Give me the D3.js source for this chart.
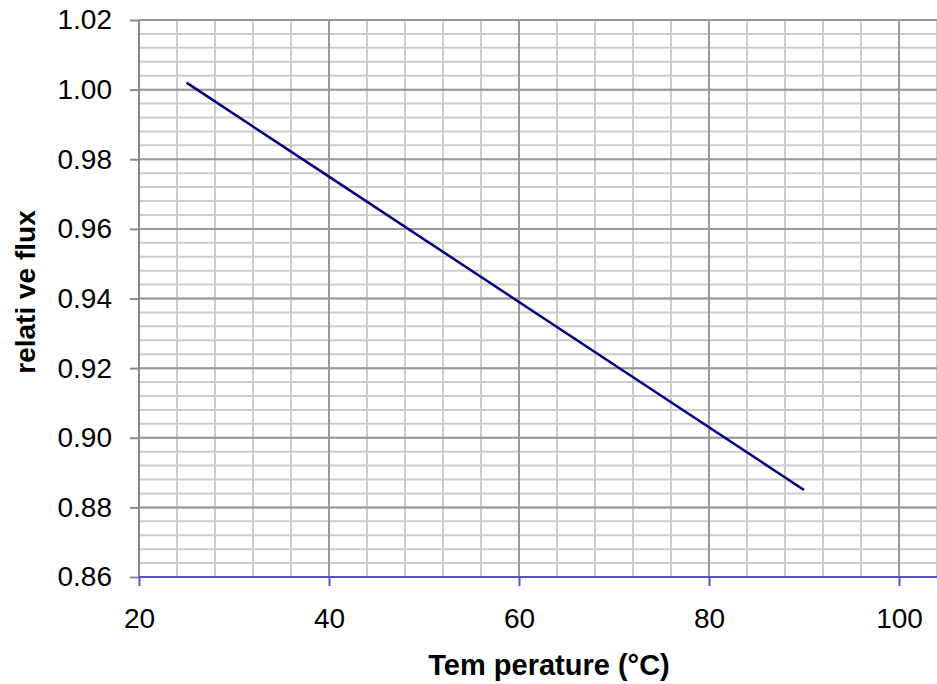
<!DOCTYPE html>
<html>
<head>
<meta charset="utf-8">
<script src="https://cdn.jsdelivr.net/npm/d3@7"></script>
<style>
  body { margin: 0; background: #fff; }
  text { font-family: "Liberation Sans", Arial, sans-serif; }
</style>
</head>
<body>
<div id="chart"></div>
<script>
// values
var temperature = [25, 40, 60, 80, 90];
var flux = [1.002, 0.975, 0.939, 0.903, 0.885];
var xTicks = [20, 40, 60, 80, 100];
var yTicks = [0.86, 0.88, 0.90, 0.92, 0.94, 0.96, 0.98, 1.00, 1.02];

var margin = {top: 20, right: 0, bottom: 107, left: 139},
    width = 937 - margin.left - margin.right,
    height = 684 - margin.top - margin.bottom;

var svg = d3.select("#chart")
    .append("svg")
    .attr("width", 937)
    .attr("height", 684)
    .append("g")
    .attr("transform", "translate(" + margin.left + "," + margin.top + ")");

var x = d3.scaleLinear().domain([20, 104]).range([0, width]);
var y = d3.scaleLinear().domain([0.86, 1.02]).range([height, 0]);

// minor grid
svg.append("g")
    .selectAll("line")
    .data(d3.range(20, 104.01, 4))
    .enter().append("line")
    .attr("x1", function(d) { return x(d); })
    .attr("x2", function(d) { return x(d); })
    .attr("y1", 0).attr("y2", height)
    .attr("stroke", "#cccccc").attr("stroke-width", 2);

svg.append("g")
    .selectAll("line")
    .data(d3.range(0, 40.5, 1).map(function(i) { return 0.86 + i * 0.004; }))
    .enter().append("line")
    .attr("x1", 0).attr("x2", width)
    .attr("y1", function(d) { return y(d); })
    .attr("y2", function(d) { return y(d); })
    .attr("stroke", "#cccccc").attr("stroke-width", 2);

// major grid
svg.append("g")
    .selectAll("line")
    .data(xTicks)
    .enter().append("line")
    .attr("x1", function(d) { return x(d); })
    .attr("x2", function(d) { return x(d); })
    .attr("y1", 0).attr("y2", height)
    .attr("stroke", "#999999").attr("stroke-width", 2);

svg.append("g")
    .selectAll("line")
    .data(yTicks)
    .enter().append("line")
    .attr("x1", 0).attr("x2", width)
    .attr("y1", function(d) { return y(d); })
    .attr("y2", function(d) { return y(d); })
    .attr("stroke", "#999999").attr("stroke-width", 2);

// Y axis
var yAxis = svg.append("g")
    .call(d3.axisLeft(y).tickValues(yTicks).tickFormat(d3.format(".2f")).tickSize(9).tickPadding(18));
yAxis.selectAll("line, path").attr("stroke", "#888888").attr("stroke-width", 2);
yAxis.select(".domain").attr("d", "M0,0V" + height);
yAxis.selectAll("text").style("font-size", "28px").attr("fill", "#000");

// X axis
var xAxis = svg.append("g")
    .attr("transform", "translate(0," + height + ")")
    .call(d3.axisBottom(x).tickValues(xTicks).tickSize(9).tickPadding(22));
xAxis.selectAll("line, path").attr("stroke", "#5555c0").attr("stroke-width", 2);
xAxis.select(".domain").attr("d", "M0,0H" + width);
xAxis.selectAll("text").style("font-size", "28px").attr("fill", "#000");

// line
var pts = temperature.map(function(t, i) { return [t, flux[i]]; });
svg.append("path")
    .datum(pts)
    .attr("fill", "none")
    .attr("stroke", "#000080")
    .attr("stroke-width", 2.5)
    .attr("d", d3.line()
        .x(function(d) { return x(d[0]); })
        .y(function(d) { return y(d[1]); }));

// axis titles
svg.append("text")
    .attr("x", 410)
    .attr("y", height + 98)
    .attr("text-anchor", "middle")
    .style("font-size", "29px")
    .style("font-weight", "bold")
    .text("Tem perature (°C)");

svg.append("text")
    .attr("transform", "rotate(-90)")
    .attr("x", -272)
    .attr("y", -104)
    .attr("text-anchor", "middle")
    .style("font-size", "28px")
    .style("font-weight", "bold")
    .text("relati ve flux");
</script>
</body>
</html>
